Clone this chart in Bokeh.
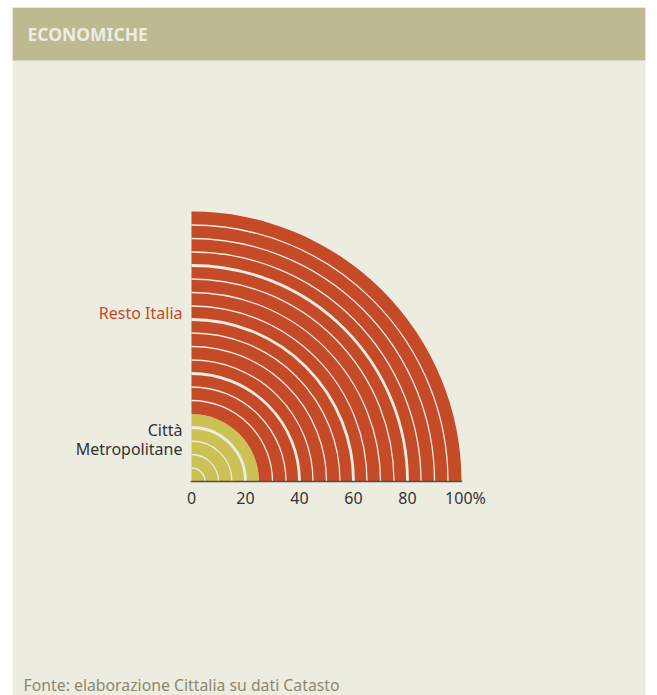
import numpy as np
from bokeh.plotting import figure
from bokeh.models import Range1d, ColumnDataSource
from bokeh.core.properties import value
from bokeh.embed import file_html
from bokeh.resources import INLINE

# ---- data ----
categories = ["Città\nMetropolitane", "Resto Italia"]
shares = [25, 75]            # percent
ring_unit = 5                # each ring = 5%
colors = ["#CBC155", "#C44A28"]
label_colors = ["#333333", "#C44A28"]
ticks = [0, 20, 40, 60, 80, 100]
tick_labels = ["0", "20", "40", "60", "80", "100%"]
title = "ECONOMICHE"
source_note = "Fonte: elaborazione Cittalia su dati Catasto"

# ---- layout (pixel geometry) ----
BG = "#EDECE1"
HEADER = "#BDB991"
FONT = "Noto Sans"
PX = 2.7                 # pixels per percent
OX, OY = 191, 481        # picture pixel of the origin
FX0, FX1, FY0, FY1 = 12, 645, 7, 695


def dx(px):
    return (px - OX) / PX


def dy(py):
    return (OY - py) / PX


p = figure(width=649, height=695, output_backend="svg", toolbar_location=None,
           x_range=Range1d(dx(FX0), dx(FX1)), y_range=Range1d(dy(FY1), dy(FY0)),
           min_border_left=12, min_border_right=4, min_border_top=7, min_border_bottom=0)
p.axis.visible = False
p.grid.visible = False
p.background_fill_color = BG
p.border_fill_color = "white"
p.outline_line_color = None

# header band
p.quad(left=dx(FX0), right=dx(FX1), bottom=dy(60), top=dy(FY0),
       fill_color=HEADER, line_color=None)
p.text(x=[dx(27)], y=[dy(33)], text=[title], text_font=value(FONT),
       text_font_style="bold", text_font_size="17.5px", text_color="#EEEDE3",
       text_baseline="middle", text_align="left")

# rings
starts = np.cumsum([0] + shares[:-1])
src = ColumnDataSource(dict(inner=list(starts), outer=list(starts + np.array(shares)),
                            color=colors))
p.annular_wedge(x=0, y=0, inner_radius="inner", outer_radius="outer",
                start_angle=0, end_angle=np.pi / 2, fill_color="color",
                line_color=None, source=src)

gaps = []
for s, sh in zip(starts, shares):
    gaps += [s + ring_unit * k for k in range(1, sh // ring_unit)]
grid = [t for t in ticks[1:-1]]
thin = [g for g in gaps if g not in grid]
p.arc(x=0, y=0, radius=thin, start_angle=0, end_angle=np.pi / 2,
      line_color=BG, line_width=1.3)
p.arc(x=0, y=0, radius=grid, start_angle=0, end_angle=np.pi / 2,
      line_color=BG, line_width=2.8)

# baseline axis
p.segment(x0=[ticks[0]], y0=[0], x1=[ticks[-1]], y1=[0],
          line_color="#4d4d4d", line_width=1.6, line_cap="square")

# tick labels
tsrc = ColumnDataSource(dict(x=ticks, y=[0] * len(ticks), t=tick_labels,
                             xo=[0, 0, 0, 0, 0, 4]))
p.text(x="x", y="y", text="t", x_offset="xo", y_offset=16, source=tsrc,
       text_font=value(FONT), text_font_size="16px", text_color="#333333",
       text_align="center", text_baseline="middle")

# category labels at middle of each share
mids = [s + sh / 2 for s, sh in zip(starts, shares)]
lsrc = ColumnDataSource(dict(x=[0, 0], y=mids, t=categories, c=label_colors,
                             yo=[-8, 0]))
p.text(x="x", y="y", text="t", y_offset="yo", x_offset=-9, source=lsrc,
       text_font=value(FONT), text_font_size="16px", text_color="c",
       text_align="right", text_baseline="middle", text_line_height=0.85)

# footer
p.text(x=[dx(23)], y=[dy(684)], text=[source_note], text_font=value(FONT),
       text_font_size="15.8px", text_color="#8A896E", text_align="left",
       text_baseline="middle")

open("out.html", "w").write(file_html(p, INLINE))
